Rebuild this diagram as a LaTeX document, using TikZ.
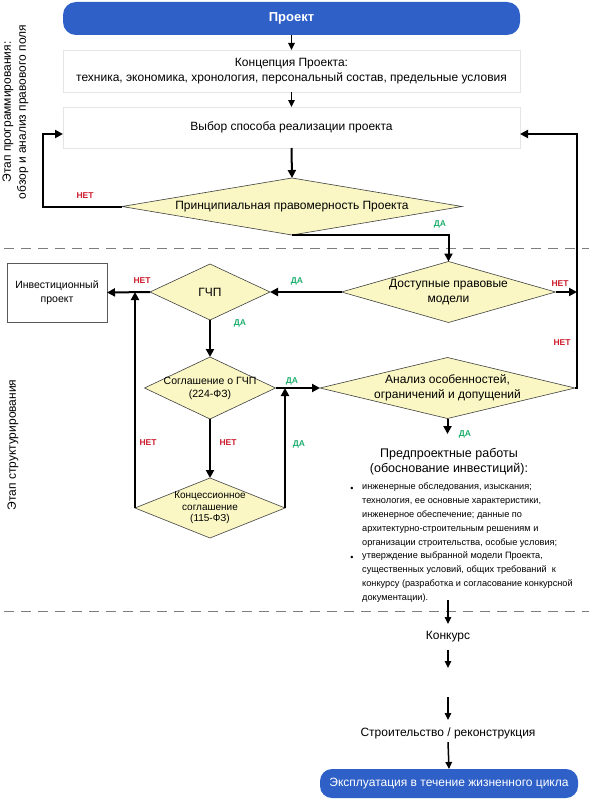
\documentclass[tikz,border=0pt]{standalone}
\usepackage{fontspec}
\setmainfont{Liberation Sans}
\usetikzlibrary{arrows.meta,shapes.geometric}
\definecolor{pblue}{RGB}{46,96,200}
\definecolor{dfill}{RGB}{250,247,196}
\definecolor{nred}{RGB}{205,30,45}
\definecolor{dgreen}{RGB}{30,175,110}
\definecolor{dashgray}{RGB}{125,125,125}
\begin{document}
\begin{tikzpicture}[x=1pt,y=-1pt,
  font=\fontsize{12}{14.5}\selectfont,
  dia/.style={diamond, draw=black!75, line width=0.6pt, fill=dfill, inner sep=0pt, outer sep=0pt},
  bluebox/.style={rectangle, rounded corners=13pt, fill=pblue, text=white, inner sep=0pt, outer sep=0pt},
  pbox/.style={rectangle, draw=black!10, line width=0.6pt, fill=white, inner sep=0pt, outer sep=0pt, align=center},
  thickarr/.style={line width=2pt, -{Triangle[length=8pt,width=8pt]}},
  thinarr/.style={line width=1.5pt, -{Triangle[length=7pt,width=6.5pt]}},
  nolab/.style={text=nred, font=\fontsize{8.5}{9}\selectfont\bfseries, inner sep=0pt},
  yeslab/.style={text=dgreen, font=\fontsize{8.5}{9}\selectfont\bfseries, inner sep=0pt},
  sepline/.style={dashgray, line width=1pt, dash pattern=on 10pt off 7pt}
]
\useasboundingbox[fill=white] (0,0) rectangle (589,800);

% separators
\draw[sepline] (4,248.5) -- (589,248.5);
\draw[sepline] (4,611.5) -- (589,611.5);

% stage labels
\node[rotate=90, align=center, font=\fontsize{12}{15}\selectfont] (lab1) at (15.5,112) {Этап программирования:\\обзор и анализ правового поля};
\node[rotate=90, font=\fontsize{12}{15}\selectfont] (lab2) at (13,445) {Этап структурирования};

% top boxes
\node[bluebox, minimum width=457pt, minimum height=33pt, font=\fontsize{13}{15}\selectfont\bfseries] (proj) at (291.5,18.5) {Проект};
\node[pbox, minimum width=457pt, minimum height=42pt, font=\fontsize{12}{15}\selectfont] (konc) at (291.5,71) {Концепция Проекта:\\техника, экономика, хронология, персональный состав, предельные условия};
\node[pbox, minimum width=457pt, minimum height=41pt] (vyb) at (291.5,127.5) {Выбор способа реализации проекта};

% diamonds
\node[dia, minimum width=340pt, minimum height=57pt] (d1) at (292,206.5) {};
\node (d1t) at (d1) {Принципиальная правомерность Проекта};

\node[dia, minimum width=214pt, minimum height=61pt] (d2) at (448.5,292) {};
\node[align=center] (d2t) at (d2) {Доступные правовые\\модели};

\node[dia, minimum width=120pt, minimum height=56pt] (d3) at (210,292) {};
\node (d3t) at (d3) {ГЧП};

\node[dia, minimum width=131pt, minimum height=62pt] (d4) at (210,388) {};
\node[align=center, font=\fontsize{10.5}{13}\selectfont] (d4t) at (d4) {Соглашение о ГЧП\\(224-ФЗ)};

\node[dia, minimum width=150pt, minimum height=60pt] (d5) at (210,508) {};
\node[align=center, font=\fontsize{10}{11.5}\selectfont] (d5t) at (d5) {Концессионное\\соглашение\\(115-ФЗ)};

\node[dia, minimum width=255pt, minimum height=61pt] (d6) at (447.5,388) {};
\node[align=center] (d6t) at (d6) {Анализ особенностей,\\ограничений и допущений};

% investment project box
\node[rectangle, draw=black!65, line width=0.8pt, fill=white, minimum width=100pt, minimum height=59pt, inner sep=0pt, outer sep=0pt, align=center, font=\fontsize{10.5}{14}\selectfont] (inv) at (57,292.5) {Инвестиционный\\проект};

% pre-project works
\node[align=center, font=\fontsize{12.5}{15}\selectfont] (pre) at (449,462) {Предпроектные работы\\(обоснование инвестиций):};
\node[anchor=north west, align=left, inner sep=0pt, font=\fontsize{9.2}{13.8}\selectfont] (blist) at (362,483) {инженерные обследования, изыскания;\\технология, ее основные характеристики,\\инженерное обеспечение; данные по\\архитектурно-строительным решениям и\\организации строительства, особые условия;\\утверждение выбранной модели Проекта,\\существенных условий, общих требований~~к\\конкурсу (разработка и согласование конкурсной\\документации).};
\node[font=\fontsize{9}{10}\selectfont, inner sep=0pt] (b1) at (352,489) {•};
\node[font=\fontsize{9}{10}\selectfont, inner sep=0pt] (b2) at (352,558) {•};

% bottom
\node (konk) at (448,637) {Конкурс};
\node (stroi) at (448,733) {Строительство / реконструкция};
\node[bluebox, rounded corners=12pt, minimum width=258pt, minimum height=29pt] (expl) at (449,783.5) {Эксплуатация в течение жизненного цикла};

% coordinates
\coordinate (L1) at (43,206.5);
\coordinate (L2) at (43,134);
\coordinate (R1) at (577,388);
\coordinate (R2) at (577,134);
\coordinate (a6e) at (447.5,434);
\coordinate (a1s) at (448,600);
\coordinate (a1e) at (448,624);
\coordinate (a2s) at (448,650);
\coordinate (a2e) at (448,668);
\coordinate (a3s) at (448,697);
\coordinate (a3e) at (448,720);

% connectors
\draw[thinarr] (proj.south) -- (konc.north);
\draw[thinarr] (konc.south) -- (vyb.north);
\draw[thickarr] (vyb.south) -- (d1.north);
\draw[thickarr] (d1.west) -- (L1) -- (L2) -- (L2 -| vyb.west);
\draw[thickarr] (d1.south) -| (d2.north);
\draw[thickarr] (d6.east) -- (R1) -- (R2) -- (R2 -| vyb.east);
\draw[thickarr] (d2.east) -- (d2.east -| R1);
\draw[thickarr] (d2.west) -- (d3.east);
\draw[thickarr] (d3.west) -- (inv.east);
\draw[thickarr] (d3.south) -- (d4.north);
\draw[thickarr] (d4.east) -- (d6.west);
\draw[thickarr] (d4.south) -- (d5.north);
\draw[thickarr] (d5.east) -- (d5.east |- d4.east);
\draw[thickarr] (d5.west) -- (d5.west |- d3.west);
\draw[thickarr] (d6.south) -- (a6e);
\draw[thinarr] (a1s) -- (a1e);
\draw[thinarr] (a2s) -- (a2e);
\draw[thinarr] (a3s) -- (a3e);
\draw[thinarr] (stroi.south) -- (expl.north);

% labels
\node[nolab] (n1) at (85,196) {НЕТ};
\node[yeslab] (y1) at (440,224) {ДА};
\node[nolab] (n2) at (560,284) {НЕТ};
\node[nolab] (n3) at (562,343) {НЕТ};
\node[yeslab] (y2) at (297,281) {ДА};
\node[nolab] (n4) at (142,281) {НЕТ};
\node[yeslab] (y3) at (240,323) {ДА};
\node[yeslab] (y4) at (292,381) {ДА};
\node[nolab] (n5) at (228,443) {НЕТ};
\node[yeslab] (y5) at (299,444) {ДА};
\node[nolab] (n6) at (148,443) {НЕТ};
\node[yeslab] (y6) at (465,434) {ДА};
\end{tikzpicture}
\end{document}
